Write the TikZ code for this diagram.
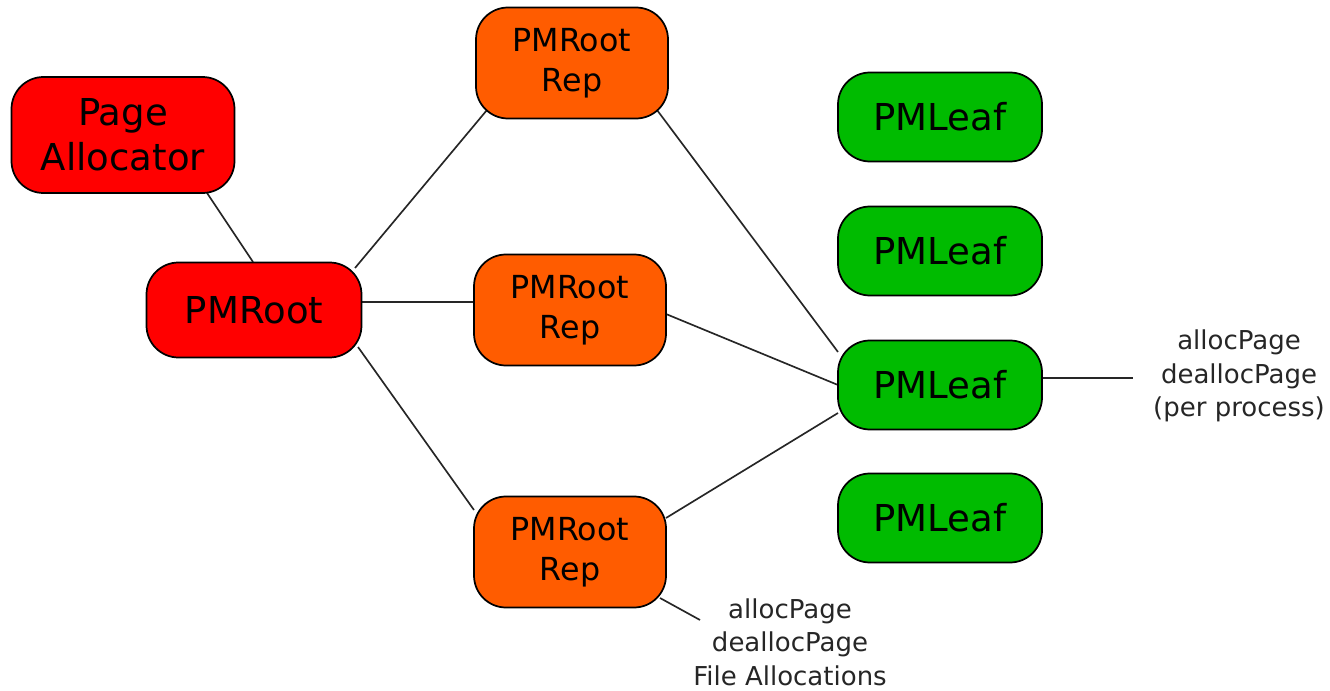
\documentclass[tikz,border=0pt]{standalone}
\usepackage{fontspec}
\setmainfont{DejaVu Sans}
\usetikzlibrary{calc,backgrounds}
\definecolor{rootred}{RGB}{255,0,0}
\definecolor{reporange}{RGB}{255,92,0}
\definecolor{leafgreen}{RGB}{0,187,0}
\tikzset{
  box/.style={draw=black, line width=1.3pt, rounded corners=24pt, align=center, inner sep=0pt},
  pabox/.style={box, fill=rootred, minimum width=167.25pt, minimum height=87pt, font=\fontsize{27.8}{33.75}\selectfont},
  rootbox/.style={box, fill=rootred, minimum width=161.25pt, minimum height=71.25pt, font=\fontsize{27.8}{33}\selectfont},
  repbox/.style={box, fill=reporange, minimum width=144pt, minimum height=83.25pt, font=\fontsize{23.8}{30}\selectfont},
  leafbox/.style={box, fill=leafgreen, minimum width=153pt, minimum height=66.75pt, font=\fontsize{27.8}{33}\selectfont},
  note/.style={align=center, text=black!85, font=\fontsize{19.5}{25}\selectfont, inner sep=0pt},
  link/.style={draw=black!85, line width=1.25pt}
}
\begin{document}
\begin{tikzpicture}[x=0.75pt,y=-0.75pt]
\useasboundingbox (0,0) rectangle (1330,691);
\node[pabox]   (pa)   at (123,135) {Page\\Allocator};
\node[rootbox] (pmr)  at (254,310) {PMRoot};
\node[repbox]  (rep1) at (572,63)  {PMRoot\\Rep};
\node[repbox]  (rep2) at (570,310) {PMRoot\\Rep};
\node[repbox]  (rep3) at (570,552) {PMRoot\\Rep};
\node[leafbox] (leaf1) at (940,117) {PMLeaf};
\node[leafbox] (leaf2) at (940,251) {PMLeaf};
\node[leafbox] (leaf3) at (940,385) {PMLeaf};
\node[leafbox] (leaf4) at (940,518) {PMLeaf};
\node[note] (n1) at (1239,376) {allocPage\\deallocPage\\(per process)};
\node[note] (n2) at (790,642) {allocPage\\deallocPage\\File Allocations};
\coordinate (c1) at (1133,378);
\coordinate (c2) at (700,620);
\begin{scope}[on background layer]
\draw[link] ($(pa.center)+(84,58)$) -- ($(pmr.center)+(-1,-48)$);
\draw[link] ($(pmr.center)+(101,-42)$) -- ($(rep1.center)+(-85,47)$);
\draw[link] ($(pmr.center)+(108,-8)$) -- ($(rep2.center)+(-96,-8)$);
\draw[link] ($(pmr.center)+(104,37)$) -- ($(rep3.center)+(-96,-42)$);
\draw[link] ($(rep1.center)+(85,47)$) -- ($(leaf3.center)+(-102,-33)$);
\draw[link] ($(rep2.center)+(96,4)$) -- ($(leaf3.center)+(-102,0)$);
\draw[link] ($(rep3.center)+(96,-34)$) -- ($(leaf3.center)+(-102,28)$);
\draw[link] ($(leaf3.center)+(102,-7)$) -- (c1);
\draw[link] ($(rep3.center)+(90,46)$) -- (c2);
\end{scope}
\end{tikzpicture}
\end{document}
